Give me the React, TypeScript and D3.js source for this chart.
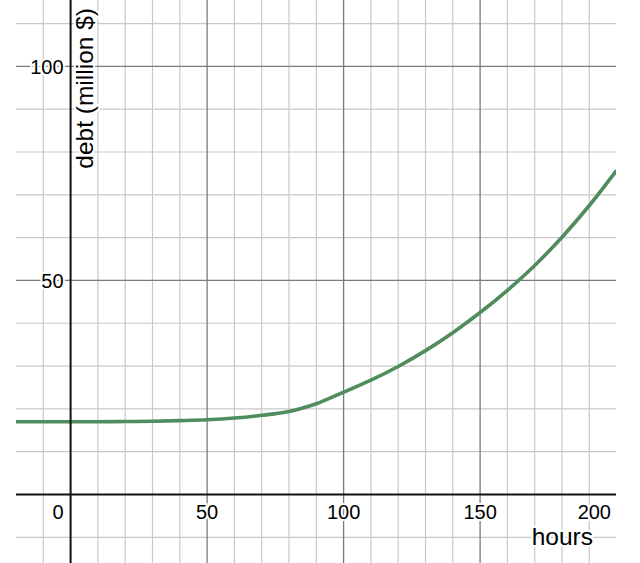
import * as d3 from 'd3';
import React, { useRef, useEffect } from 'react';

// curve (hours -> debt in million $)
const hours: number[] = [-20, -10, 0, 10, 20, 30, 40, 50, 60, 70, 80, 85, 90, 100, 110, 120, 130, 140, 150, 160, 170, 180, 190, 200];
const debt: number[] = [17.0, 17.0, 17.0, 17.0, 17.05, 17.1, 17.25, 17.45, 17.85, 18.5, 19.4, 20.2, 21.2, 23.9, 26.7, 29.9, 33.6, 37.8, 42.5, 47.7, 53.5, 60.1, 67.5, 75.7];

const xTicks: number[] = [0, 50, 100, 150, 200];
const yTicks: number[] = [50, 100];
const xMinor: number[] = d3.range(-10, 200, 10);
const yMinor: number[] = d3.range(-10, 115, 10);

const xTitle = "hours";
const yTitle = "debt (million $)";

function App (): any {
  const ref = useRef(null);

  const width = 640;
  const height = 563;
  const plot = { left: 16, right: 616.6, top: 0, bottom: 563 };

  useEffect(() => {
    const svg = d3.select(ref.current);
    svg.selectAll("*").remove();

    const xScale = d3.scaleLinear().domain([-20, 200]).range([plot.left, plot.right]);
    const yScale = d3.scaleLinear().domain([-16, 115.5]).range([plot.bottom, plot.top]);

    svg.append("defs").append("clipPath").attr("id", "plotClip")
      .append("rect")
      .attr("x", plot.left).attr("y", plot.top)
      .attr("width", 616 - plot.left).attr("height", plot.bottom - plot.top);

    const g = svg.append("g").attr("clip-path", "url(#plotClip)");

    // minor grid
    g.selectAll(".vminor").data(xMinor.filter(d => d !== 0 && d % 50 !== 0)).join("line")
      .attr("x1", d => xScale(d)).attr("x2", d => xScale(d))
      .attr("y1", plot.top).attr("y2", plot.bottom)
      .attr("stroke", "#c8c8c8").attr("stroke-width", 1.2);
    g.selectAll(".hminor").data(yMinor.filter(d => d !== 0 && d % 50 !== 0)).join("line")
      .attr("y1", d => yScale(d)).attr("y2", d => yScale(d))
      .attr("x1", plot.left).attr("x2", 616)
      .attr("stroke", "#c8c8c8").attr("stroke-width", 1.2);

    // major grid
    g.selectAll(".vmajor").data(xTicks.filter(d => d !== 0 && d < 200)).join("line")
      .attr("x1", d => xScale(d)).attr("x2", d => xScale(d))
      .attr("y1", plot.top).attr("y2", plot.bottom)
      .attr("stroke", "#7a7a7a").attr("stroke-width", 1.3);
    g.selectAll(".hmajor").data(yTicks).join("line")
      .attr("y1", d => yScale(d)).attr("y2", d => yScale(d))
      .attr("x1", plot.left).attr("x2", 616)
      .attr("stroke", "#7a7a7a").attr("stroke-width", 1.3);

    // curve
    const line = d3.line<number>()
      .x((_, i) => xScale(hours[i]))
      .y(d => yScale(d))
      .curve(d3.curveMonotoneX);
    g.append("path")
      .datum(debt)
      .attr("d", line)
      .attr("fill", "none")
      .attr("stroke", "#4f8c5e")
      .attr("stroke-width", 3.6);

    // axes
    g.append("line")
      .attr("x1", plot.left).attr("x2", 616)
      .attr("y1", yScale(0)).attr("y2", yScale(0))
      .attr("stroke", "#111").attr("stroke-width", 2);
    g.append("line")
      .attr("x1", xScale(0)).attr("x2", xScale(0))
      .attr("y1", plot.top).attr("y2", plot.bottom)
      .attr("stroke", "#111").attr("stroke-width", 2);

    const font = "'Liberation Sans', Arial, sans-serif";

    // tick labels with white halo
    svg.selectAll(".xlab").data(xTicks).join("text")
      .attr("x", d => d === 0 ? xScale(0) - 7 : d === 200 ? 611 : xScale(d))
      .attr("y", yScale(0) + 25)
      .attr("text-anchor", d => (d === 0 || d === 200) ? "end" : "middle")
      .attr("font-family", font).attr("font-size", 20)
      .attr("fill", "#000")
      .attr("stroke", "#fff").attr("stroke-width", 4).attr("paint-order", "stroke")
      .text(d => d);

    svg.selectAll(".ylab").data(yTicks).join("text")
      .attr("x", xScale(0) - 7)
      .attr("y", d => yScale(d))
      .attr("dy", "0.36em")
      .attr("text-anchor", "end")
      .attr("font-family", font).attr("font-size", 20)
      .attr("fill", "#000")
      .attr("stroke", "#fff").attr("stroke-width", 4).attr("paint-order", "stroke")
      .text(d => d);

    // axis titles
    svg.append("text")
      .attr("x", 593).attr("y", 545)
      .attr("text-anchor", "end")
      .attr("font-family", font).attr("font-size", 24.5)
      .attr("fill", "#000")
      .attr("stroke", "#fff").attr("stroke-width", 4).attr("paint-order", "stroke")
      .text(xTitle);

    svg.append("text")
      .attr("transform", "translate(" + 93 + "," + 8 + ") rotate(-90)")
      .attr("text-anchor", "end")
      .attr("font-family", font).attr("font-size", 24.5)
      .attr("fill", "#000")
      .attr("stroke", "#fff").attr("stroke-width", 4).attr("paint-order", "stroke")
      .text(yTitle);
  }, []);

  return (
    <svg
      ref={ref}
      width={width}
      height={height}
      style={{ position: "absolute", left: 0, top: 0, background: "#fff" }}
    />
  );
}

export default App;
